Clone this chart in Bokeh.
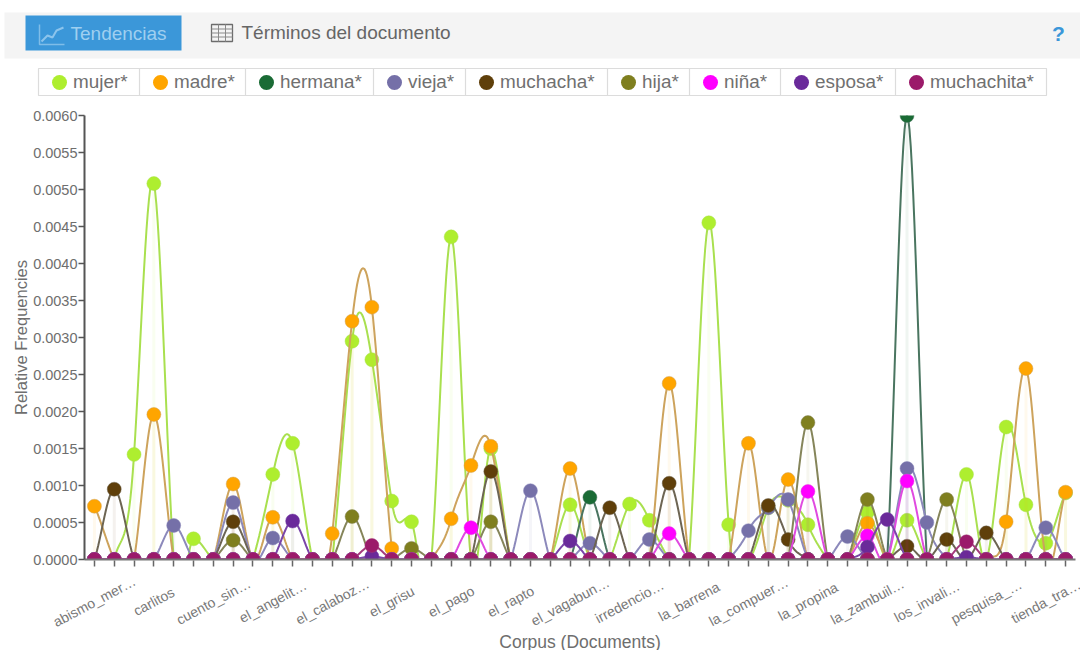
import numpy as np
from bokeh.plotting import figure
from bokeh.layouts import column
from bokeh.embed import file_html
from bokeh.resources import INLINE
from bokeh.models import Range1d, FixedTicker, PrintfTickFormatter
from bokeh.core.properties import value

N_DOCS = 50
label_docs = [0, 3, 6, 9, 12, 15, 18, 21, 24, 27, 30, 33, 36, 39, 42, 45, 48]
doc_labels = ["abismo_mer…", "carlitos", "cuento_sin…", "el_angelit…", "el_calaboz…", "el_grisu", "el_pago",
              "el_rapto", "el_vagabun…", "irredencio…", "la_barrena", "la_compuer…", "la_propina",
              "la_zambuil…", "los_invali…", "pesquisa_…", "tienda_tra…"]
y_ticks = [0.0, 0.0005, 0.001, 0.0015, 0.002, 0.0025, 0.003, 0.0035, 0.004, 0.0045, 0.005, 0.0055, 0.006]

# Nonzero relative frequencies per document index; all others are 0.
mujer = {2: .00142, 3: .00508, 5: .00028, 9: .00115, 10: .00157, 13: .00295, 14: .0027, 15: .00079, 16: .00051,
         18: .00436, 20: .0015, 24: .00074, 27: .00075, 28: .00053, 31: .00455, 32: .00047, 34: .0007, 35: .0008,
         36: .00047, 39: .00064, 41: .00053, 44: .00115, 46: .00179, 47: .00074, 48: .00022, 49: .0009}
madre = {0: .00072, 3: .00196, 7: .00102, 9: .00057, 12: .00035, 13: .00322, 14: .00341, 15: .00015, 18: .00055,
         19: .00127, 20: .00153, 24: .00123, 29: .00238, 33: .00157, 35: .00108, 39: .00049, 46: .00051,
         47: .00258, 49: .00091}
hermana = {25: .00084, 41: .006}
vieja = {4: .00046, 7: .00077, 9: .00029, 22: .00093, 25: .00022, 28: .00027, 33: .00039, 34: .0007, 35: .00081,
         38: .00031, 41: .00123, 42: .0005, 48: .00043}
muchacha = {1: .00095, 7: .00051, 20: .00119, 26: .0007, 29: .00103, 34: .00073, 35: .00027, 41: .00018,
            43: .00027, 45: .00036}
hija = {7: .00026, 13: .00058, 16: .00015, 20: .00051, 36: .00185, 39: .00081, 43: .00081}
nina = {19: .00043, 29: .00035, 36: .00092, 39: .00032, 41: .00106}
esposa = {10: .00052, 14: .00004, 24: .00025, 39: .00017, 40: .00054, 44: .00003}
muchachita = {14: .00019, 44: .00024}

series = [("mujer*", mujer, "#aeee2f", "#a9e04f"),
          ("madre*", madre, "#ffa500", "#cda35c"),
          ("hermana*", hermana, "#1a6b35", "#4a7560"),
          ("vieja*", vieja, "#7570a8", "#8c89bb"),
          ("muchacha*", muchacha, "#5f3f0a", "#6d6553"),
          ("hija*", hija, "#7f7f1f", "#85855a"),
          ("niña*", nina, "#ff00ff", "#e04ae0"),
          ("esposa*", esposa, "#6a2a9a", "#7a45a8"),
          ("muchachita*", muchachita, "#9b1a6a", "#a43a7c")]

TENSION_SLOPE = 0.8   # slope factor of the cardinal curve the chart draws through its points


def smooth(xs, ys, per=16):
    xs, ys = np.asarray(xs, float), np.asarray(ys, float)
    m = np.zeros(len(ys))
    m[1:-1] = TENSION_SLOPE * (ys[2:] - ys[:-2])
    m[0], m[-1] = TENSION_SLOPE * (ys[1] - ys[0]), TENSION_SLOPE * (ys[-1] - ys[-2])
    t = np.linspace(0, 1, per, endpoint=False)
    h00, h10, h01, h11 = 2*t**3-3*t**2+1, t**3-2*t**2+t, -2*t**3+3*t**2, t**3-t**2
    ox, oy = [], []
    for i in range(len(ys)-1):
        ox.extend(xs[i] + t)
        oy.extend(h00*ys[i] + h10*m[i] + h01*ys[i+1] + h11*m[i+1])
    return ox + [xs[-1]], oy + [ys[-1]]


GREY = "#6e6e6e"
FONT = "Liberation Sans"

# ---- header strip: toolbar band and legend row
H_HEAD = 100
head = figure(width=1080, height=H_HEAD, x_range=Range1d(0, 1080), y_range=Range1d(H_HEAD, 0),
              toolbar_location=None, output_backend="svg", min_border=0, outline_line_color=None,
              background_fill_color="white", border_fill_color="white")
head.frame_align = False
head.axis.visible = False
head.grid.visible = False
head.quad(left=[4], right=[1080], top=[12], bottom=[58], fill_color="#f4f4f4", line_color=None)
head.quad(left=[25], right=[181], top=[15], bottom=[50], fill_color="#3b97d9", line_color=None)
# chart icon in the button
head.line([39, 39, 64], [24, 44, 44], line_color="#7fbde8", line_width=1.5)
head.line([41, 47, 52, 56, 63], [41, 35, 37, 30, 27], line_color="#8cc4ec", line_width=2)
head.text([70], [33], text=["Tendencias"], text_font=value(FONT), text_font_size="19px",
          text_color="#9fcff0", text_baseline="middle")
# table icon
head.quad(left=[211], right=[232], top=[24], bottom=[41], fill_color="#f4f4f4", line_color="#6c6c6c", line_width=1.3)
head.multi_line([[211, 232], [211, 232], [211, 232], [218, 218], [225, 225]],
                [[28.5, 28.5], [32.5, 32.5], [36.5, 36.5], [24, 41], [24, 41]],
                line_color="#8a8a8a", line_width=1)
head.text([241], [32], text=["Términos del documento"], text_font=value(FONT), text_font_size="19px",
          text_color="#666666", text_baseline="middle")
head.text([1058], [33], text=["?"], text_font=value(FONT), text_font_size="21px", text_font_style="bold",
          text_color="#3b97d9", text_baseline="middle", text_align="center")
# legend
edges = [38, 139, 245, 373, 465, 607, 689, 780, 895, 1046]
head.quad(left=[edges[0]], right=[edges[-1]], top=[68], bottom=[95], fill_color="white",
          line_color="#dcdcdc", line_width=1.2)
head.segment(x0=edges[1:-1], x1=edges[1:-1], y0=[68]*8, y1=[95]*8, line_color="#dcdcdc", line_width=1.2)
for (name, _, col, _), l in zip(series, edges[:-1]):
    head.scatter([l + 21], [82], size=15, marker="circle", fill_color=col, line_color=None)
    head.text([l + 34.5], [81], text=[name], text_font=value(FONT), text_font_size="18.9px",
              text_color="#707070", text_baseline="middle")

# ---- main chart
FRAME_L, FRAME_R = 84, 5
p = figure(width=1080, height=471, x_range=Range1d(-0.5, N_DOCS - 0.5), y_range=Range1d(0, 0.006),
           toolbar_location=None, output_backend="svg", outline_line_color=None,
           min_border_left=FRAME_L, min_border_right=FRAME_R, min_border_top=15, min_border_bottom=12,
           background_fill_color="white", border_fill_color="white")
p.frame_align = False
p.grid.visible = False
p.frame_width = 1080 - FRAME_L - FRAME_R
p.frame_height = 444

x_all = list(range(N_DOCS))
for name, vals, col, lcol in series:
    y_all = [vals.get(i, 0.0) for i in x_all]
    nz = [i for i in x_all if y_all[i] > 0]
    # pale drop lines under the points
    p.segment(x0=nz, x1=nz, y0=[0]*len(nz), y1=[y_all[i] for i in nz], line_color=col, line_alpha=0.07, line_width=3)
    sx, sy = smooth(x_all, y_all)
    p.line(sx, sy, line_color=lcol, line_width=2)
    p.scatter(x_all, y_all, size=14, marker="circle", fill_color=col, line_color=lcol, line_width=0.8, line_alpha=0.6)

p.xaxis.ticker = FixedTicker(ticks=x_all)
p.xaxis.major_label_text_font_size = "0px"
p.xaxis.major_label_text_color = None
p.xaxis.major_label_standoff = 0
p.xaxis.axis_line_color = "#777777"
p.xaxis.axis_line_width = 2
p.xaxis.major_tick_line_color = "#666666"
p.xaxis.major_tick_line_width = 1.5
p.xaxis.major_tick_in = -1
p.xaxis.major_tick_out = 7
p.xaxis.minor_tick_line_color = None

p.yaxis.ticker = FixedTicker(ticks=y_ticks)
p.yaxis.formatter = PrintfTickFormatter(format="%.4f")
p.yaxis.major_label_text_font = FONT
p.yaxis.major_label_text_font_size = "14.5px"
p.yaxis.major_label_text_color = GREY
p.yaxis.major_label_standoff = 1
p.yaxis.axis_line_color = "#555555"
p.yaxis.axis_line_width = 2
p.yaxis.major_tick_line_color = "#555555"
p.yaxis.major_tick_line_width = 1.5
p.yaxis.major_tick_in = 0
p.yaxis.major_tick_out = 6
p.yaxis.minor_tick_line_color = None
p.yaxis.axis_label = "Relative Frequencies"
p.yaxis.axis_label_standoff = 0
p.yaxis.axis_label_text_font = FONT
p.yaxis.axis_label_text_font_size = "16.5px"
p.yaxis.axis_label_text_font_style = "normal"
p.yaxis.axis_label_text_color = GREY

# ---- strip under the axis: slanted document names and the x title, on the same document scale
H_FOOT = 79
dx = p.frame_width / N_DOCS
foot = figure(width=1080, height=H_FOOT,
              x_range=Range1d(-0.5 - FRAME_L / dx, N_DOCS - 0.5 + FRAME_R / dx), y_range=Range1d(H_FOOT, 0),
              toolbar_location=None, output_backend="svg", min_border=0, outline_line_color=None,
              background_fill_color="white", border_fill_color="white")
foot.frame_align = False
foot.axis.visible = False
foot.grid.visible = False
foot.text(label_docs, [30] * len(label_docs), text=doc_labels, angle=0.49, text_align="center",
          text_baseline="middle", text_font=value(FONT), text_font_size="14px", text_color="#787878")
foot.text([(N_DOCS - 1) / 2], [70], text=["Corpus (Documents)"], text_align="center", text_baseline="middle",
          text_font=value(FONT), text_font_size="17.5px", text_color=GREY)

layout = column(head, p, foot, spacing=0)
open("out.html", "w").write(file_html(layout, INLINE))
